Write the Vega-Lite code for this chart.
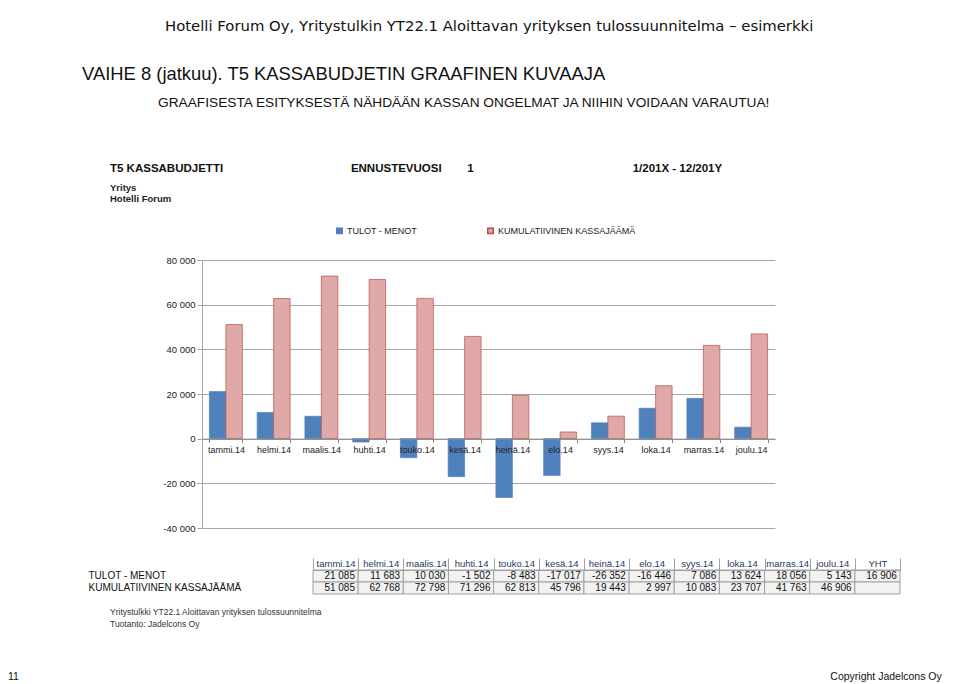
{
  "$schema": "https://vega.github.io/schema/vega-lite/v6.json",
  "padding": {"left": 8, "top": 19, "right": 5, "bottom": 5},
  "background": "white",
  "config": {
    "view": {"stroke": null},
    "font": "Liberation Sans",
    "locale": {"number": {"decimal": ",", "thousands": "\u00a0", "grouping": [3], "currency": ["", "\u00a0€"], "minus": "-"}}
  },
  "datasets": {
    "kassa": [
      {"kk": "tammi.14", "sarja": "TULOT - MENOT", "arvo": 21085},
      {"kk": "helmi.14", "sarja": "TULOT - MENOT", "arvo": 11683},
      {"kk": "maalis.14", "sarja": "TULOT - MENOT", "arvo": 10030},
      {"kk": "huhti.14", "sarja": "TULOT - MENOT", "arvo": -1502},
      {"kk": "touko.14", "sarja": "TULOT - MENOT", "arvo": -8483},
      {"kk": "kesä.14", "sarja": "TULOT - MENOT", "arvo": -17017},
      {"kk": "heinä.14", "sarja": "TULOT - MENOT", "arvo": -26352},
      {"kk": "elo.14", "sarja": "TULOT - MENOT", "arvo": -16446},
      {"kk": "syys.14", "sarja": "TULOT - MENOT", "arvo": 7086},
      {"kk": "loka.14", "sarja": "TULOT - MENOT", "arvo": 13624},
      {"kk": "marras.14", "sarja": "TULOT - MENOT", "arvo": 18056},
      {"kk": "joulu.14", "sarja": "TULOT - MENOT", "arvo": 5143},
      {"kk": "YHT", "sarja": "TULOT - MENOT", "arvo": 16906},
      {"kk": "tammi.14", "sarja": "KUMULATIIVINEN KASSAJÄÄMÄ", "arvo": 51085},
      {"kk": "helmi.14", "sarja": "KUMULATIIVINEN KASSAJÄÄMÄ", "arvo": 62768},
      {"kk": "maalis.14", "sarja": "KUMULATIIVINEN KASSAJÄÄMÄ", "arvo": 72798},
      {"kk": "huhti.14", "sarja": "KUMULATIIVINEN KASSAJÄÄMÄ", "arvo": 71296},
      {"kk": "touko.14", "sarja": "KUMULATIIVINEN KASSAJÄÄMÄ", "arvo": 62813},
      {"kk": "kesä.14", "sarja": "KUMULATIIVINEN KASSAJÄÄMÄ", "arvo": 45796},
      {"kk": "heinä.14", "sarja": "KUMULATIIVINEN KASSAJÄÄMÄ", "arvo": 19443},
      {"kk": "elo.14", "sarja": "KUMULATIIVINEN KASSAJÄÄMÄ", "arvo": 2997},
      {"kk": "syys.14", "sarja": "KUMULATIIVINEN KASSAJÄÄMÄ", "arvo": 10083},
      {"kk": "loka.14", "sarja": "KUMULATIIVINEN KASSAJÄÄMÄ", "arvo": 23707},
      {"kk": "marras.14", "sarja": "KUMULATIIVINEN KASSAJÄÄMÄ", "arvo": 41763},
      {"kk": "joulu.14", "sarja": "KUMULATIIVINEN KASSAJÄÄMÄ", "arvo": 46906},
      {"kk": "YHT", "sarja": "KUMULATIIVINEN KASSAJÄÄMÄ", "arvo": null}
    ]
  },
  "title": {
    "text": "11\u2003\u2003\u2003\u2003\u2003\u2003\u2003\u2003\u2003\u2003\u2003\u2003\u2003\u2003\u2003\u2003\u2003\u2003\u2003\u2003\u2003\u2003\u2003\u2003\u2003\u2003\u2003\u2003\u2003\u2003\u2003\u2003\u2003\u2003\u2003\u2003\u2003\u2003\u2003\u2003\u2003\u2003\u2003\u2003\u2003\u2003\u2003\u2003\u2003\u2003\u2003\u2003\u2003\u2003\u2003\u2003\u2003\u2003\u2003\u2003\u2003\u2003\u2003\u2003\u2003\u2003\u2003\u2003\u2003\u2003\u2003\u2003\u2003\u2003\u2003\u2003\u2003\u00a0Copyright Jadelcons Oy",
    "orient": "bottom", "anchor": "start", "frame": "bounds", "dx": -74, "offset": 43,
    "font": "Liberation Sans", "fontSize": 10.5, "fontWeight": "normal", "color": "#111"
  },
  "vconcat": [
    {
      "title": {
        "text": "Hotelli Forum Oy, Yritystulkin YT22.1 Aloittavan yrityksen tulossuunnitelma – esimerkki",
        "anchor": "start", "frame": "bounds", "dx": 83, "offset": 30.3,
        "font": "DejaVu Sans", "fontSize": 14.85, "fontWeight": "normal", "color": "#111"
      },
      "vconcat": [
        {
          "title": {
            "text": "VAIHE 8 (jatkuu). T5 KASSABUDJETIN GRAAFINEN KUVAAJA",
            "subtitle": "\u200b\u00a0\u00a0\u00a0\u00a0\u00a0\u00a0\u00a0\u00a0\u00a0\u00a0\u00a0\u00a0\u00a0\u00a0\u00a0\u00a0\u00a0\u00a0\u00a0\u00a0GRAAFISESTA ESITYKSESTÄ NÄHDÄÄN KASSAN ONGELMAT JA NIIHIN VOIDAAN VARAUTUA!",
            "anchor": "start", "frame": "bounds", "dx": -6, "offset": 53.3,
            "font": "Liberation Sans", "fontSize": 18.4, "fontWeight": "normal", "color": "#111",
            "subtitleFont": "Liberation Sans", "subtitleFontSize": 13.7, "subtitleColor": "#111", "subtitlePadding": 13
          },
          "spacing": 24,
          "vconcat": [
            {
              "width": 573,
              "height": 268,
              "data": {"name": "kassa"},
              "transform": [{"filter": "datum.kk != 'YHT'"}],
              "title": {
                "text": "T5 KASSABUDJETTI\u00a0\u00a0\u00a0\u00a0\u00a0\u00a0\u00a0\u00a0\u00a0\u00a0\u00a0\u00a0\u00a0\u00a0\u00a0\u00a0\u00a0\u00a0\u00a0\u00a0\u00a0\u00a0\u00a0\u00a0\u00a0\u00a0\u00a0\u00a0\u00a0\u00a0\u00a0\u00a0\u00a0\u00a0\u00a0\u00a0\u00a0\u00a0\u00a0\u00a0ENNUSTEVUOSI\u00a0\u00a0\u00a0\u00a0\u00a0\u00a0\u00a0\u00a01\u2003\u2003\u2003\u2003\u2003\u2003\u2003\u2003\u2003\u2003\u2003\u2003\u2003\u00a0\u00a0\u00a01/201X - 12/201Y",
                "subtitle": ["Yritys", "Hotelli Forum"],
                "anchor": "start", "frame": "group", "dx": -92, "offset": 52,
                "font": "Liberation Sans", "fontSize": 11.5, "fontWeight": "bold", "color": "#111",
                "subtitleFont": "Liberation Sans", "subtitleFontSize": 9.5, "subtitleFontWeight": "bold", "subtitleColor": "#222", "subtitlePadding": 8, "subtitleLineHeight": 11
              },
              "mark": {"type": "bar", "strokeWidth": 0.7},
              "encoding": {
                "x": {
                  "field": "kk", "type": "nominal",
                  "scale": {"domain": ["tammi.14", "helmi.14", "maalis.14", "huhti.14", "touko.14", "kesä.14", "heinä.14", "elo.14", "syys.14", "loka.14", "marras.14", "joulu.14"], "paddingInner": 0.31, "paddingOuter": 0.155},
                  "axis": {"title": null, "orient": "bottom", "offset": -89.33, "labelAngle": 0, "labelFontSize": 9, "labelColor": "#222", "labelPadding": 3, "tickBand": "extent", "tickSize": 4, "tickColor": "#888", "domainColor": "#888", "grid": false, "zindex": 1}
                },
                "xOffset": {"field": "sarja", "type": "nominal", "scale": {"domain": ["TULOT - MENOT", "KUMULATIIVINEN KASSAJÄÄMÄ"], "paddingInner": 0, "paddingOuter": 0}},
                "y": {
                  "field": "arvo", "type": "quantitative",
                  "scale": {"domain": [-40000, 80000], "nice": false, "zero": true},
                  "axis": {"title": null, "values": [-40000, -20000, 0, 20000, 40000, 60000, 80000], "format": ",d", "labelFontSize": 9.5, "labelColor": "#222", "labelPadding": 2, "tickSize": 5, "tickColor": "#a6a6a6", "domainColor": "#a6a6a6", "grid": true, "gridColor": "#a6a6a6"}
                },
                "color": {
                  "field": "sarja", "type": "nominal",
                  "scale": {"domain": ["TULOT - MENOT", "KUMULATIIVINEN KASSAJÄÄMÄ"], "range": ["#4f81bd", "#dfa9a8"]},
                  "legend": {"orient": "none", "legendX": 133, "legendY": -34, "direction": "horizontal", "title": null, "symbolType": "square", "symbolSize": 30, "labelFontSize": 9, "labelColor": "#222", "columnPadding": 67, "labelOffset": 3}
                },
                "stroke": {
                  "field": "sarja", "type": "nominal",
                  "scale": {"domain": ["TULOT - MENOT", "KUMULATIIVINEN KASSAJÄÄMÄ"], "range": ["#4f81bd", "#b84d4a"]},
                  "legend": null
                }
              }
            },
            {
              "width": 698,
              "height": 24,
              "data": {"name": "kassa"},
              "title": {
                "text": "Yritystulkki YT22.1 Aloittavan yrityksen tulossuunnitelma",
                "subtitle": "Tuotanto: Jadelcons Oy",
                "orient": "bottom", "anchor": "start", "frame": "bounds", "dx": 22, "offset": 13,
                "font": "Liberation Sans", "fontSize": 8.5, "fontWeight": "normal", "color": "#333",
                "subtitleFont": "Liberation Sans", "subtitleFontSize": 8.5, "subtitleColor": "#333", "subtitlePadding": 4
              },
              "encoding": {
                "x": {
                  "field": "kk", "type": "nominal",
                  "scale": {"domain": ["tammi.14", "helmi.14", "maalis.14", "huhti.14", "touko.14", "kesä.14", "heinä.14", "elo.14", "syys.14", "loka.14", "marras.14", "joulu.14", "YHT"], "range": [111, 698], "paddingInner": 0, "paddingOuter": 0},
                  "axis": {"orient": "top", "title": null, "labelAngle": 0, "labelFontSize": 9.5, "labelColor": "#1f3864", "tickBand": "extent", "tickSize": 12, "tickColor": "#a0a0a0", "domainColor": "#a0a0a0", "labelPadding": -10}
                },
                "y": {
                  "field": "sarja", "type": "nominal",
                  "scale": {"domain": ["TULOT - MENOT", "KUMULATIIVINEN KASSAJÄÄMÄ"], "paddingInner": 0, "paddingOuter": 0},
                  "axis": {"title": null, "ticks": false, "domain": false, "labelAlign": "left", "labelPadding": 114, "labelFontSize": 10, "labelColor": "#111"}
                }
              },
              "layer": [
                {"mark": {"type": "rect", "fill": "#f2f2f2", "stroke": "#a0a0a0", "strokeWidth": 1}},
                {
                  "transform": [{"filter": "isValid(datum.arvo)"}],
                  "mark": {"type": "text", "align": "right", "fontSize": 10, "color": "#111"},
                  "encoding": {
                    "x": {"field": "kk", "type": "nominal", "bandPosition": 0.93},
                    "text": {"field": "arvo", "type": "quantitative", "format": ",d"}
                  }
                }
              ]
            }
          ]
        }
      ]
    }
  ]
}
